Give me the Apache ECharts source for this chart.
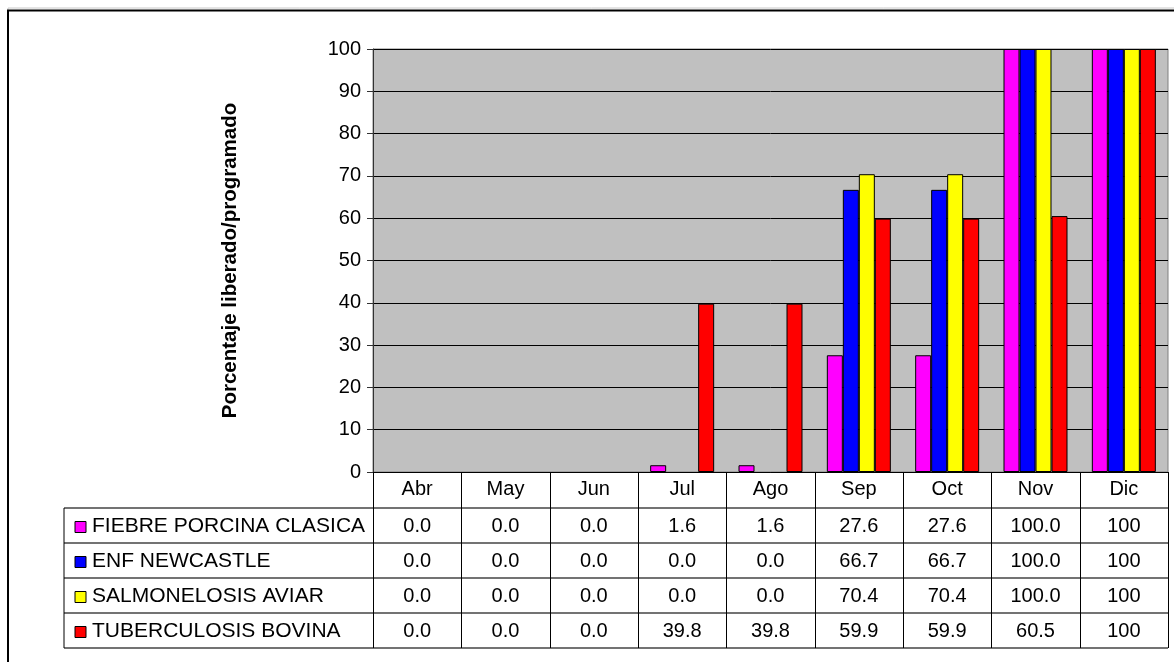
<!DOCTYPE html>
<html><head><meta charset="utf-8">
<script src="https://cdn.jsdelivr.net/npm/echarts@6/dist/echarts.min.js"></script>
<style>html,body{margin:0;padding:0;background:#fff}#c{width:1174px;height:662px}</style>
</head><body><div id="c"></div>
<script>
const months = ['Abr','May','Jun','Jul','Ago','Sep','Oct','Nov','Dic'];
const seriesNames = ['FIEBRE PORCINA CLASICA','ENF NEWCASTLE','SALMONELOSIS AVIAR','TUBERCULOSIS BOVINA'];
const fiebre = [0,0,0,1.6,1.6,27.6,27.6,100,100];
const newcastle = [0,0,0,0,0,66.7,66.7,100,100];
const salmonelosis = [0,0,0,0,0,70.4,70.4,100,100];
const tuberculosis = [0,0,0,39.8,39.8,59.9,59.9,60.5,100];
const colDecimals = [1,1,1,1,1,1,1,1,0];
const yAxisName = 'Porcentaje liberado/programado';
const colors = ['#FF00FF','#0000FF','#FFFF00','#FF0000'];
const allSeries = [fiebre, newcastle, salmonelosis, tuberculosis];

const FONT = 'Liberation Sans';
const GL = 373, GT = 49, GW = 795, GH = 423;
const GB = GT + GH;
const colW = GW / months.length;
const tableLeft = 64;
const rowH = 35;
const headerBottom = 508;

const chart = echarts.init(document.getElementById('c'), null, {renderer: 'canvas'});

const graphic = [];
// outer border with faint shadow
graphic.push({type:'rect', shape:{x:8, y:8, width:1200, height:700}, style:{fill:'none', stroke:'#c8c8c8', lineWidth:1}, silent:true, z:-11});
graphic.push({type:'rect', shape:{x:8, y:10.5, width:1200, height:700}, style:{fill:'none', stroke:'#000', lineWidth:2}, silent:true, z:-10});
// table horizontal lines
for (let r = 0; r <= allSeries.length; r++) {
  const y = headerBottom + r * rowH;
  graphic.push({type:'line', shape:{x1:tableLeft, y1:y, x2:GL+GW, y2:y}, style:{stroke:'#444', lineWidth:1.5}, z:10});
}
// table vertical lines
graphic.push({type:'line', shape:{x1:tableLeft, y1:headerBottom, x2:tableLeft, y2:headerBottom + rowH*allSeries.length}, style:{stroke:'#000', lineWidth:1}, z:10});
for (let k = 0; k <= months.length; k++) {
  const x = Math.round(GL + k * colW) + 0.5;
  graphic.push({type:'line', shape:{x1:x, y1:GB, x2:x, y2:headerBottom + rowH*allSeries.length}, style:{stroke:'#000', lineWidth:1}, z:10});
}
// legend entries + values
allSeries.forEach((arr, r) => {
  const cy = headerBottom + r * rowH + rowH/2 + 1;
  graphic.push({type:'rect', shape:{x:tableLeft+11, y:cy-5, width:11, height:11}, style:{fill:colors[r], stroke:'#000', lineWidth:1}, z:11});
  graphic.push({type:'text', x:tableLeft+28, y:cy, style:{text:seriesNames[r], font:'21px "'+FONT+'"', fill:'#000', textVerticalAlign:'middle', textAlign:'left'}, z:11});
  arr.forEach((v, i) => {
    graphic.push({type:'text', x:GL + (i+0.5)*colW, y:cy, style:{text:v.toFixed(colDecimals[i]), font:'20px "'+FONT+'"', fill:'#000', textVerticalAlign:'middle', textAlign:'center'}, z:11});
  });
});

chart.setOption({
  animation:false,
  backgroundColor:'#fff',
  textStyle:{fontFamily:FONT},
  grid:{left:GL, top:GT, width:GW, height:GH, show:true, backgroundColor:'#C0C0C0', borderColor:'#808080', borderWidth:1, containLabel:false},
  xAxis:{type:'category', data:months, boundaryGap:true,
    axisLine:{show:true, lineStyle:{color:'#000', width:1}},
    axisTick:{show:false},
    axisLabel:{fontSize:20, color:'#000', margin:7, fontFamily:FONT},
    splitLine:{show:false}},
  yAxis:{type:'value', min:0, max:100, interval:10,
    name:yAxisName, nameLocation:'middle', nameRotate:90, nameGap:132,
    nameTextStyle:{fontSize:20.5, fontWeight:'bold', color:'#000', fontFamily:FONT},
    axisLine:{show:true, lineStyle:{color:'#333', width:1}},
    axisTick:{show:true, inside:false, length:6, lineStyle:{color:'#333'}},
    axisLabel:{fontSize:20, color:'#000', margin:12, fontFamily:FONT},
    splitLine:{show:true, lineStyle:{color:'#000', width:1}}},
  series: allSeries.map((arr, r) => ({
    type:'bar', name:seriesNames[r],
    data: arr.map(v => v === 0 ? '-' : v),
    barWidth:16, barGap:'0%',
    itemStyle:{color:colors[r], borderColor:'#000', borderWidth:1}
  })),
  graphic: graphic
});
</script></body></html>
